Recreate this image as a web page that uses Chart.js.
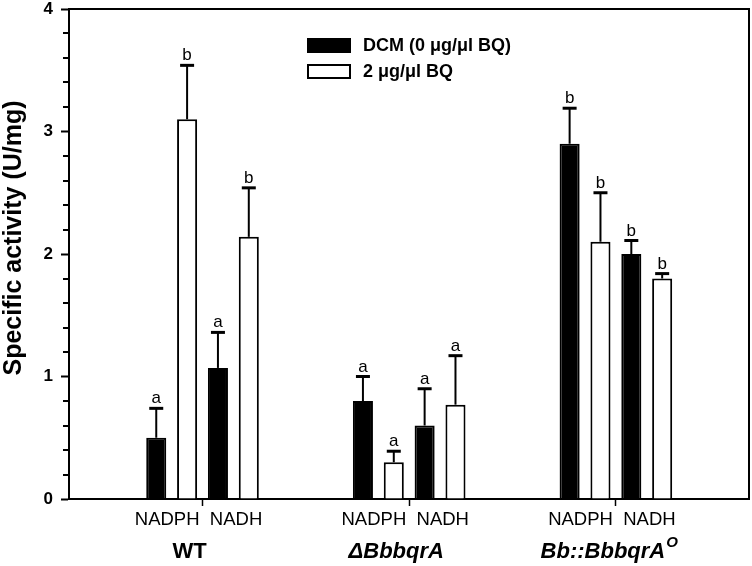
<!DOCTYPE html>
<html>
<head>
<meta charset="utf-8">
<script src="https://cdn.jsdelivr.net/npm/chart.js@4/dist/chart.umd.min.js"></script>
<style>
  html, body { margin: 0; padding: 0; background: #fff; }
</style>
</head>
<body>
<canvas id="chart" width="752" height="566"></canvas>
<script>
  // strains on the x axis, cofactor pair under each tick
  const strains = ['WT', 'ΔBbbqrA', 'Bb::BbbqrA'];
  const strainSup = ['', '', 'O'];
  const cofactorLabel = 'NADPH  NADH';
  const seriesNames = ['DCM (0 μg/μl BQ)', '2 μg/μl BQ'];

  // specific activity (U/mg)
  const dcmNadph = [0.50, 0.80, 2.90];
  const bqNadph = [3.10, 0.30, 2.10];
  const dcmNadh = [1.07, 0.60, 2.00];
  const bqNadh = [2.14, 0.77, 1.80];

  // upper error (SD)
  const dcmNadphErr = [0.24, 0.20, 0.29];
  const bqNadphErr = [0.44, 0.09, 0.40];
  const dcmNadhErr = [0.29, 0.30, 0.11];
  const bqNadhErr = [0.40, 0.40, 0.04];

  // significance letters
  const dcmNadphSig = ['a', 'a', 'b'];
  const bqNadphSig = ['b', 'a', 'b'];
  const dcmNadhSig = ['a', 'a', 'b'];
  const bqNadhSig = ['b', 'a', 'b'];

  const yTicks = [0, 1, 2, 3, 4];

  const FONT = "'Liberation Sans', Arial, sans-serif";

  function series(label, values, errs, sig, fill) {
    return {
      label: label,
      data: values.map((v, i) => ({ x: i, y: v })),
      errs: errs,
      sig: sig,
      backgroundColor: fill,
      borderColor: '#000',
      borderWidth: 2,
      categoryPercentage: 0.597,
      barPercentage: 0.65
    };
  }

  const frame = {
    id: 'frame',
    afterDraw(chart) {
      const { ctx, chartArea: a, scales } = chart;
      const y = scales.y;
      ctx.save();
      ctx.strokeStyle = '#000';
      ctx.lineWidth = 2;
      ctx.beginPath();
      ctx.moveTo(a.left, a.top);
      ctx.lineTo(a.right, a.top);
      ctx.lineTo(a.right, a.bottom);
      ctx.stroke();
      // minor ticks every 0.2
      for (let v = 0.2; v < 4; v += 0.2) {
        if (Math.abs(v - Math.round(v)) < 1e-6) continue;
        const py = Math.round(y.getPixelForValue(v));
        ctx.beginPath();
        ctx.moveTo(a.left - 6, py);
        ctx.lineTo(a.left, py);
        ctx.stroke();
      }
      ctx.restore();
    }
  };

  const errorBars = {
    id: 'errorBars',
    afterDatasetsDraw(chart) {
      const { ctx, scales } = chart;
      ctx.save();
      ctx.strokeStyle = '#000';
      ctx.fillStyle = '#000';
      ctx.font = '17px ' + FONT;
      ctx.textAlign = 'center';
      ctx.textBaseline = 'alphabetic';
      chart.data.datasets.forEach((ds, di) => {
        chart.getDatasetMeta(di).data.forEach((bar, i) => {
          const top = scales.y.getPixelForValue(ds.data[i].y + ds.errs[i]);
          ctx.lineWidth = 2;
          ctx.beginPath();
          ctx.moveTo(bar.x, bar.y);
          ctx.lineTo(bar.x, top);
          ctx.stroke();
          ctx.lineWidth = 3;
          ctx.beginPath();
          ctx.moveTo(bar.x - 7, top);
          ctx.lineTo(bar.x + 7, top);
          ctx.stroke();
          ctx.fillText(ds.sig[i], bar.x, top - 5);
        });
      });
      ctx.restore();
    }
  };

  const annotations = {
    id: 'annotations',
    afterDraw(chart) {
      const { ctx, scales } = chart;
      ctx.save();
      ctx.fillStyle = '#000';
      ctx.strokeStyle = '#000';

      // legend
      const lx = 307, rows = [45, 71];
      seriesNames.forEach((name, i) => {
        const ds = chart.data.datasets[i];
        ctx.fillStyle = ds.backgroundColor;
        ctx.fillRect(lx, rows[i] - 7, 44, 15);
        ctx.lineWidth = 2;
        ctx.strokeRect(lx + 1, rows[i] - 6, 42, 13);
        ctx.fillStyle = '#000';
        ctx.font = 'bold 18px ' + FONT;
        ctx.textAlign = 'left';
        ctx.textBaseline = 'middle';
        ctx.fillText(name, 363, rows[i] + 1);
      });

      // strain names
      strains.forEach((s, i) => {
        const cx = scales.x.getPixelForValue(i) - 13;
        ctx.font = (i > 0 ? 'italic ' : '') + 'bold 22px ' + FONT;
        ctx.textAlign = 'center';
        ctx.textBaseline = 'alphabetic';
        ctx.fillText(s, cx, 558);
        if (strainSup[i]) {
          const w = ctx.measureText(s).width;
          ctx.font = 'italic bold 15px ' + FONT;
          ctx.textAlign = 'left';
          ctx.fillText(strainSup[i], cx + w / 2 + 1, 547);
        }
      });

      // y title
      ctx.translate(14, 238);
      ctx.rotate(-Math.PI / 2);
      ctx.font = 'bold 25px ' + FONT;
      ctx.textAlign = 'center';
      ctx.textBaseline = 'middle';
      ctx.fillText('Specific activity (U/mg)', 0, 0);
      ctx.restore();
    }
  };

  new Chart(document.getElementById('chart'), {
    type: 'bar',
    data: {
      datasets: [
        series(seriesNames[0], dcmNadph, dcmNadphErr, dcmNadphSig, '#000'),
        series(seriesNames[1], bqNadph, bqNadphErr, bqNadphSig, '#fff'),
        series(seriesNames[0], dcmNadh, dcmNadhErr, dcmNadhSig, '#000'),
        series(seriesNames[1], bqNadh, bqNadhErr, bqNadhSig, '#fff')
      ]
    },
    options: {
      responsive: false,
      animation: false,
      layout: { padding: { top: 9, right: 3, left: 0, bottom: 0 } },
      plugins: {
        legend: { display: false },
        tooltip: { enabled: false }
      },
      scales: {
        x: {
          type: 'linear',
          min: -0.646,
          max: 2.644,
          offset: false,
          afterBuildTicks: (scale) => { scale.ticks = strains.map((_, i) => ({ value: i })); },
          afterFit: (scale) => { scale.height = 67; scale.paddingLeft = 0; scale.paddingRight = 0; },
          ticks: {
            callback: () => cofactorLabel,
            color: '#000',
            font: { family: FONT, size: 18.5 },
            padding: 3,
            labelOffset: -4,
            maxRotation: 0,
            autoSkip: false
          },
          grid: { drawOnChartArea: false, offset: false, tickLength: 7, tickWidth: 1.5, tickColor: '#000' },
          border: { color: '#000', width: 2 }
        },
        y: {
          min: 0,
          max: 4,
          afterBuildTicks: (scale) => { scale.ticks = yTicks.map(v => ({ value: v })); },
          afterFit: (scale) => { scale.width = 69; scale.paddingTop = 0; scale.paddingBottom = 0; },
          ticks: {
            color: '#000',
            font: { family: FONT, size: 17, weight: 'bold' },
            padding: 8
          },
          grid: { drawOnChartArea: false, tickLength: 8, tickWidth: 2, tickColor: '#000' },
          border: { color: '#000', width: 2 }
        }
      }
    },
    plugins: [frame, errorBars, annotations]
  });
</script>
</body>
</html>
